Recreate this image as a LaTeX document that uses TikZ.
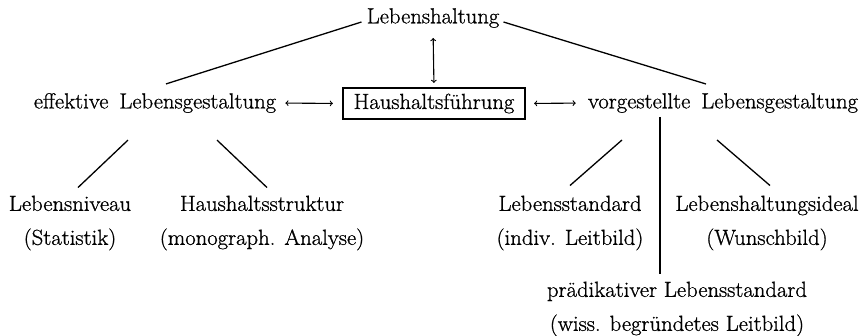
\documentclass[tikz,border=0pt]{standalone}
\usepackage{fontspec}
\setmainfont{Latin Modern Roman}[FakeBold=0.9,FakeStretch=1.04]
\usetikzlibrary{calc}
\begin{document}
\begin{tikzpicture}[x=1pt,y=-1pt,
  lbl/.style={inner sep=0pt, font=\fontsize{21.8}{34}\selectfont, align=center},
  ln/.style={line width=1.3pt},
  dbl/.style={line width=1.1pt,<->,>=to}]
\useasboundingbox (0,0) rectangle (865,335);
\node[lbl] (top) at (433,18) {Lebenshaltung};
\node[lbl] (eff) at (155,103) {effektive\hspace{0.5em}Lebensgestaltung};
\node[lbl, draw, line width=2.2pt, minimum width=182pt, minimum height=31pt] (hf) at (434,103.5) {Haushaltsführung};
\node[lbl] (vor) at (723,103) {vorgestellte\hspace{0.5em}Lebensgestaltung};
\node[lbl] (niv) at (70,223) {Lebensniveau\\(Statistik)};
\node[lbl] (str) at (262,223) {Haushaltsstruktur\\(monograph. Analyse)};
\node[lbl] (std) at (570,223) {Lebensstandard\\(indiv. Leitbild)};
\node[lbl] (ideal) at (767,223) {Lebenshaltungsideal\\(Wunschbild)};
\node[lbl] (praed) at (677,309) {prädikativer Lebensstandard\\(wiss. begründetes Leitbild)};
\draw[ln] ($(top.west)+(-5,4)$) -- ($(eff.north)+(11,-9)$);
\draw[ln] ($(top.east)+(4,4)$) -- ($(vor.north)+(-17,-9)$);
\draw[dbl, shorten <=10pt, shorten >=4pt] (top.south) -- (hf.north);
\draw[dbl, shorten <=9pt, shorten >=9pt] (eff.east) -- (hf.west);
\draw[dbl, shorten <=8pt, shorten >=12pt] (hf.east) -- (vor.west);
\draw[ln] ($(eff.south)+(-27,27)$) -- ($(niv.north)+(8,-8)$);
\draw[ln] ($(eff.south)+(62,27)$) -- ($(str.north)+(5,-8)$);
\draw[ln] ($(vor.south)+(-101,27)$) -- ($(std.north)+(0,-10)$);
\draw[ln] ($(vor.south)+(-63,4)$) -- ($(praed.north)+(-17,-8)$);
\draw[ln] ($(vor.south)+(-6,27)$) -- ($(ideal.north)+(3,-10)$);
\end{tikzpicture}
\end{document}
